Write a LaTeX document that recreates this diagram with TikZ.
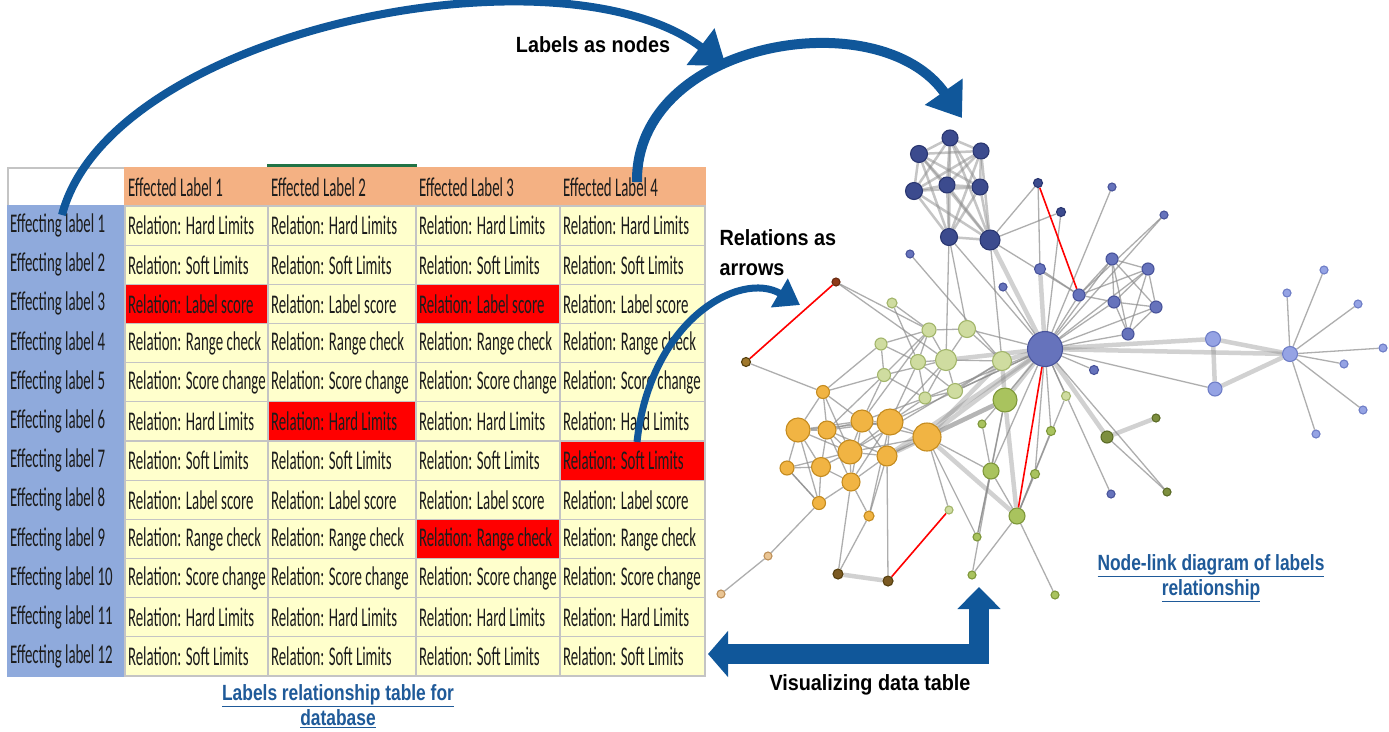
\documentclass[tikz,border=0pt]{standalone}
\usepackage{fontspec}
\setmainfont{Liberation Sans}
\newfontfamily\cellfont[FakeStretch=0.55]{Carlito}
\newfontfamily\tagfont[FakeStretch=0.9]{Liberation Sans}
\newfontfamily\capfont[FakeStretch=0.79]{Liberation Sans}
\usetikzlibrary{positioning, arrows.meta, backgrounds}

% table colours
\definecolor{headorange}{HTML}{F4B183}
\definecolor{rowblue}{HTML}{8FAADC}
\definecolor{lemon}{HTML}{FFFFCC}
\definecolor{alarm}{HTML}{FF0000}
\definecolor{gridgray}{HTML}{C4C4C4}
\definecolor{excelgreen}{HTML}{217346}
\definecolor{ink}{HTML}{1C1C1C}
% arrows and captions
\definecolor{arrowblue}{HTML}{10579A}
\definecolor{capblue}{HTML}{1F5A99}
% graph colours
\definecolor{linkgray}{HTML}{8C8C8C}
\definecolor{navyfill}{HTML}{3C4B8E}\definecolor{navyline}{HTML}{2A3670}
\definecolor{bluefill}{HTML}{6673BC}\definecolor{blueline}{HTML}{48539A}
\definecolor{skyfill}{HTML}{95A3E4}\definecolor{skyline}{HTML}{6E7DC6}
\definecolor{limefill}{HTML}{CFDCA0}\definecolor{limeline}{HTML}{A2B56A}
\definecolor{leaffill}{HTML}{A9C35E}\definecolor{leafline}{HTML}{7E973A}
\definecolor{olivefill}{HTML}{7D8F3E}\definecolor{oliveline}{HTML}{5B6B27}
\definecolor{amberfill}{HTML}{F1B443}\definecolor{amberline}{HTML}{C48B1F}
\definecolor{sandfill}{HTML}{EAC594}\definecolor{sandline}{HTML}{BE9058}
\definecolor{umberfill}{HTML}{7B5A22}\definecolor{umberline}{HTML}{56400F}
\definecolor{rustfill}{HTML}{8E3B1A}\definecolor{rustline}{HTML}{6A2A10}
\definecolor{ochrefill}{HTML}{A0782C}

\begin{document}
\begin{tikzpicture}[x=1pt, y=-1pt,
    cell/.style={rectangle, draw=gridgray, line width=1.2pt, inner sep=0pt, minimum height=39.2pt,
      text=ink, font=\cellfont\fontsize{27}{30}\selectfont},
    vertex/.style={circle, inner sep=0pt, line width=1.1pt},
    navy dot/.style={vertex, fill=navyfill, draw=navyline},
    blue dot/.style={vertex, fill=bluefill, draw=blueline},
    sky dot/.style={vertex, fill=skyfill, draw=skyline},
    lime dot/.style={vertex, fill=limefill, draw=limeline},
    leaf dot/.style={vertex, fill=leaffill, draw=leafline},
    olive dot/.style={vertex, fill=olivefill, draw=oliveline},
    amber dot/.style={vertex, fill=amberfill, draw=amberline},
    sand dot/.style={vertex, fill=sandfill, draw=sandline},
    umber dot/.style={vertex, fill=umberfill, draw=umberline},
    link/.style={draw=linkgray, line width=1.3pt, opacity=0.7},
    heavy link/.style={draw=linkgray, line width=4.5pt, opacity=0.4},
    relation/.style={draw=alarm, line width=1.6pt},
    bigarrow/.style={arrowblue, line width=8pt, -{Triangle[length=32pt, width=44pt]}},
    tag/.style={font=\tagfont\bfseries\fontsize{22}{30}\selectfont, text=black},
    caption text/.style={font=\capfont\bfseries\fontsize{22}{25}\selectfont, text=capblue, align=center}]

  \useasboundingbox (0,0) rectangle (1389,731);

  % Header row of the table
  \node[cell, fill=white, minimum width=117pt, minimum height=38pt] (r0-0) at (66.5,187) {};
  \foreach \j/\x/\w in {1/196.5/143, 2/342/148, 3/488/144, 4/632.5/145} {
    \node[cell, fill=headorange, draw=headorange, minimum height=38pt] (r0-\j) at (\x,187)
      {\makebox[\w pt][l]{\hspace{3pt}Effected Label \j}};
  }
  \draw[excelgreen, line width=3pt] ([yshift=2pt]r0-2.north west) -- ([yshift=2pt]r0-2.north east);

  % Flagged cells
  \foreach \i/\j in {3/1, 3/3, 6/2, 7/4, 9/3} {\expandafter\gdef\csname hot\i-\j\endcsname{}}

  % Table body
  \foreach \i/\rel in {1/Hard Limits, 2/Soft Limits, 3/Label score, 4/Range check, 5/Score change,
      6/Hard Limits, 7/Soft Limits, 8/Label score, 9/Range check, 10/Score change,
      11/Hard Limits, 12/Soft Limits} {
    \pgfmathsetmacro\y{206+39.17*(\i-0.5)}
    \node[cell, fill=rowblue, draw=rowblue] (r\i-0) at (66.5,\y)
      {\makebox[117pt][l]{\hspace{2pt}Effecting label \i}};
    \foreach \j/\x/\w in {1/196.5/143, 2/342/148, 3/488/144, 4/632.5/145} {
      \ifcsname hot\i-\j\endcsname \def\shade{alarm}\else \def\shade{lemon}\fi
      \node[cell, fill=\shade] (r\i-\j) at (\x,\y) {\makebox[\w pt][l]{\hspace{3pt}Relation: \rel}};
    }
  }

  % Graph: nodes (name/x/y/diameter)
  \foreach \n/\x/\y/\d in {n1/950/138/16, n2/919/154/17, n3/981/151/16, n4/914/191/17,
      n5/947/185/16, n6/980/187/16, n7/949/237/17, n8/990/240/20, n9/1038/183/9, n10/1061/212/9}
    \node[navy dot, minimum size=\d pt] (\n) at (\x,\y) {};
  \foreach \n/\x/\y/\d in {h/1045/349/35, b1/1040/269/11, b2/1003/287/8, b3/910/254/8,
      b4/1094/370/9, b5/1112/187/8, b6/1164/215/8, b7/1079/295/12, b8/1112/259/12,
      b9/1148/269/12, b10/1114/302/12, b11/1156/307/12, b12/1128/334/12, b13/1111/494/8}
    \node[blue dot, minimum size=\d pt] (\n) at (\x,\y) {};
  \foreach \n/\x/\y/\d in {c1/1213/339/15, c2/1215/389/14, c3/1290/354/15, c4/1287/293/8,
      c5/1324/270/8, c6/1358/304/8, c7/1383/348/8, c8/1344/364/8, c9/1363/410/8, c10/1316/434/8}
    \node[sky dot, minimum size=\d pt] (\n) at (\x,\y) {};
  \foreach \n/\x/\y/\d in {g1/892/303/10, g2/929/330/14, g3/967/329/17, g4/881/344/12,
      g5/918/362/15, g6/946/360/21, g7/1002/361/19, g8/884/375/13, g9/955/391/15,
      g10/925/398/12, p1/949/510/8, v2/1066/396/9}
    \node[lime dot, minimum size=\d pt] (\n) at (\x,\y) {};
  \foreach \n/\x/\y/\d in {v1/1005/400/24, v3/982/424/8, v4/1051/431/9, v5/991/471/16,
      v6/1035/474/9, v7/1017/516/16, v8/977/537/8, v9/972/575/8, v10/1055/595/8}
    \node[leaf dot, minimum size=\d pt] (\n) at (\x,\y) {};
  \foreach \n/\x/\y/\d in {o1/1107/437/12, o2/1156/418/8, o3/1167/492/8}
    \node[olive dot, minimum size=\d pt] (\n) at (\x,\y) {};
  \foreach \n/\x/\y/\d in {y1/823/392/13, y2/798/430/24, y3/827/430/18, y4/862/421/22,
      y5/890/422/26, y6/927/437/28, y7/850/452/24, y8/887/456/20, y9/787/468/14,
      y10/821/467/19, y11/851/482/18, y12/819/503/13, y13/869/516/10}
    \node[amber dot, minimum size=\d pt] (\n) at (\x,\y) {};
  \foreach \n/\x/\y/\d in {q1/768/556/8, q2/721/594/8}
    \node[sand dot, minimum size=\d pt] (\n) at (\x,\y) {};
  \foreach \n/\x/\y/\d in {d1/838/574/10, d2/888/581/10}
    \node[umber dot, minimum size=\d pt] (\n) at (\x,\y) {};
  \node[vertex, fill=rustfill, draw=rustline, minimum size=8pt] (r1) at (836,282) {};
  \node[vertex, fill=ochrefill, draw=umberline, minimum size=9pt] (r2) at (746,362) {};

  % Graph: links behind the nodes
  \begin{scope}[on background layer]
    \fill[white] (0,0) rectangle (1389,731);
    \foreach \i in {1,...,8} {
      \foreach \j in {1,...,8} {
        \ifnum\i<\j \draw[heavy link, line width=2.5pt, opacity=0.5] (n\i) -- (n\j); \fi
      }
    }
    \foreach \a/\b in {h/n8, h/g7, h/g6, h/v1, h/y6, h/b1, h/c1, h/c3, h/o1, h/y8,
        c1/c2, c1/c3, c2/c3, v1/g7, v1/v7, o1/o2, y6/g7, y6/v1, y8/v1, y6/v7, d1/d2}
      \draw[heavy link] (\a) -- (\b);
    \foreach \a/\b in {n8/n9, n8/n10, n9/b1, n10/h, b3/g7, n7/g6, n7/g3, n8/g7,
        h/b2, h/b4, h/b5, h/b6, h/b7, h/b8, h/b9, h/b10, h/b11, h/b12, h/b13, h/c2,
        h/v2, h/v4, h/v6, h/o3, h/v5, h/g3, h/g9, h/g10, h/y5, h/n7, h/v3,
        b7/b8, b7/b10, b7/b9, b8/b9, b8/b10, b8/b11, b8/b12, b9/b10, b9/b11, b9/b12,
        b10/b11, b10/b12, b11/b12, b6/b7, b1/b7, b7/n8,
        c3/c4, c3/c5, c3/c6, c3/c7, c3/c8, c3/c9, c3/c10,
        g1/g2, g1/g5, g2/g3, g2/g5, g2/g6, g3/g6, g3/g7, g4/g5, g4/g8, g5/g6, g6/g7,
        g6/g9, g7/g9, g8/g10, g9/g10, g5/g10, g6/g10, g2/g8, g4/g2, g5/g9, g8/g6, r1/g6, r1/g2,
        v1/v5, v5/v7, v5/v8, v3/v5, v6/v7, v4/v7, v7/v9, v7/v10, v8/v1, v9/v5, o1/o3, v2/v7,
        y1/y2, y1/y3, y1/y4, y1/y7, y2/y3, y2/y4, y2/y7, y2/y9, y2/y10, y3/y4, y3/y5,
        y3/y7, y3/y10, y4/y5, y4/y6, y4/y7, y4/y8, y5/y6, y5/y7, y5/y8, y6/y7, y6/y8,
        y7/y8, y7/y9, y7/y10, y7/y11, y8/y11, y9/y10, y9/y12, y10/y11, y10/y12, y11/y12,
        y11/y13, y8/y13, y5/y13, y2/y12, y3/y11, y4/y11, y5/y11, y2/y5, y3/y8,
        y5/g6, y4/g2, y5/g5, y7/g7, y1/g4, y1/g8, y4/g10, y5/g10, y6/v5, y6/p1, y6/v8,
        y8/d2, y11/d1, y13/d1, y12/q1, q1/q2, r2/y1, y9/y12, y3/g8, y4/g8}
      \draw[link] (\a) -- (\b);
    % relations shown in red
    \foreach \a/\b in {n9/b7, r1/r2, h/v7, d2/p1}
      \draw[relation] (\a) -- (\b);
  \end{scope}

  % Big curved arrows from the table to the graph
  \coordinate (fromrows) at (62,215);
  \coordinate (tonodes) at (726,66);
  \draw[bigarrow] (fromrows) .. controls (110,30) and (560,-60) .. (tonodes);
  \coordinate (fromcols) at (637,182);
  \coordinate (tocluster) at (962,118);
  \draw[bigarrow, line width=10pt] (fromcols) .. controls (635,40) and (880,0) .. (tocluster);
  \coordinate (fromcell) at (637,442);
  \coordinate (tolink) at (800,305);
  \draw[bigarrow, line width=7pt, -{Triangle[length=24pt, width=32pt]}]
    (fromcell) .. controls (650,320) and (740,270) .. (tolink);

  % Elbow arrow back to the table
  \coordinate (uptip) at (979,587);
  \coordinate (lefttip) at (708,654);
  \draw[arrowblue, line width=20pt, line join=miter,
    {Triangle[length=22pt, width=42pt]}-{Triangle[length=20pt, width=45pt]}] (uptip) |- (lefttip);

  % Texts
  \node[tag] (nodestag) at (593,45) {Labels as nodes};
  \node[tag, align=left, anchor=north west] (arrowstag) at (716,226) {Relations as\\arrows};
  \node[tag] (backtag) at (870,685) {Visualizing data table};
  \node[caption text] (tablecap) at (338,706) {\underline{Labels relationship table for}\\\underline{database}};
  \node[caption text] (graphcap) at (1211,578) {\underline{Node-link diagram of labels}\\\underline{relationship}};
\end{tikzpicture}
\end{document}
